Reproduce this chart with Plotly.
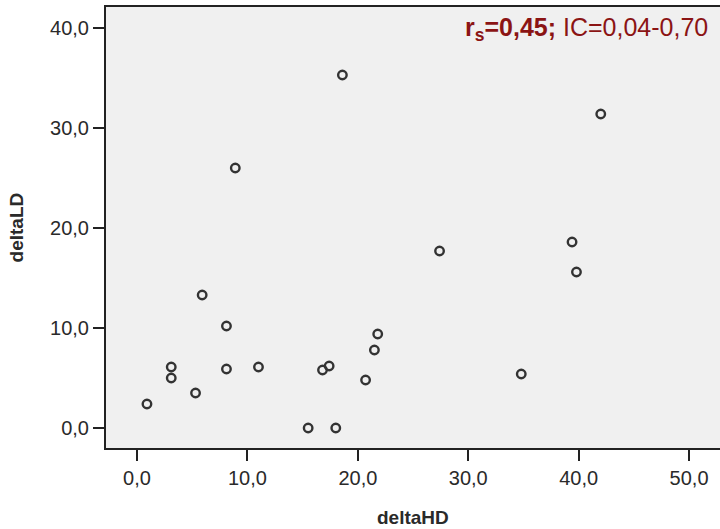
import plotly.graph_objects as go

delta_hd = [0.9, 3.1, 3.1, 5.3, 5.9, 8.1, 8.1, 8.9, 11.0, 15.5, 16.8, 17.4, 18.0, 18.6,
            20.7, 21.5, 21.8, 27.4, 34.8, 39.4, 39.8, 42.0]
delta_ld = [2.4, 6.1, 5.0, 3.5, 13.3, 10.2, 5.9, 26.0, 6.1, 0.0, 5.8, 6.2, 0.0, 35.3,
            4.8, 7.8, 9.4, 17.7, 5.4, 18.6, 15.6, 31.4]
x_title = "deltaHD"
y_title = "deltaLD"
stat_text = "<b>r<sub>s</sub>=0,45;</b> IC=0,04-0,70"

FONT = "Liberation Sans, Arial, sans-serif"

fig = go.Figure()
fig.add_trace(go.Scatter(
    x=delta_hd, y=delta_ld, mode="markers",
    marker=dict(symbol="circle-open", size=8.5, color="#333333", line=dict(width=2.4, color="#333333")),
    showlegend=False, hoverinfo="skip"))

axis_common = dict(
    showgrid=False, zeroline=False, showline=True, linewidth=2, linecolor="#222222",
    ticks="outside", ticklen=11, tickwidth=2, tickcolor="#222222",
    tickfont=dict(family=FONT, size=20, color="#2a2a2a"),
    tickformat=".1f", dtick=10, tick0=0)

fig.update_layout(
    width=720, height=529,
    margin=dict(l=106, r=0, t=7, b=81),
    paper_bgcolor="white", plot_bgcolor="#f0f0f0",
    separators=",.",
    xaxis=dict(range=[-2.81, 52.8], mirror=True, **axis_common),
    yaxis=dict(range=[-2.0, 42.1], **axis_common),
    annotations=[
        dict(text=stat_text, xref="paper", yref="paper", x=0.983, y=0.99,
             xanchor="right", yanchor="top", showarrow=False,
             font=dict(family=FONT, size=25, color="#8b1414")),
        dict(text="<b>" + x_title + "</b>", xref="paper", yref="paper", x=0.5, y=-0.158,
             xanchor="center", yanchor="middle", showarrow=False,
             font=dict(family=FONT, size=19, color="#2a2a2a")),
        dict(text="<b>" + y_title + "</b>", xref="paper", yref="paper", x=-0.145, y=0.5,
             xanchor="center", yanchor="middle", showarrow=False, textangle=-90,
             font=dict(family=FONT, size=19, color="#2a2a2a")),
    ],
)

fig.write_html("out.html")
